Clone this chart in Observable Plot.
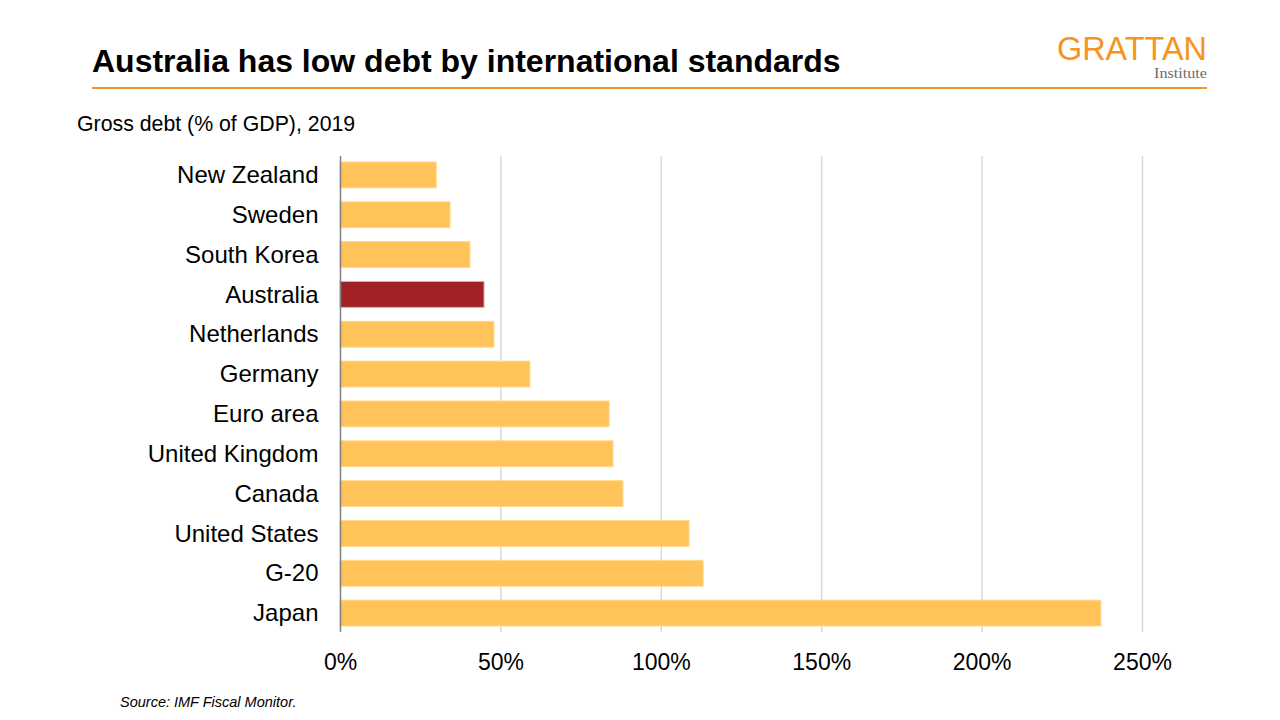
<!DOCTYPE html>
<html>
<head>
<meta charset="utf-8">
<script src="https://cdn.jsdelivr.net/npm/d3@7"></script>
<script src="https://cdn.jsdelivr.net/npm/@observablehq/plot@0.6"></script>
<style>
  html, body { margin: 0; padding: 0; background: #fff; }
  #page { position: relative; width: 1280px; height: 720px; overflow: hidden; font-family: "Liberation Sans", Arial, sans-serif; color: #000; }
  #title { position: absolute; left: 92px; top: 43px; font-size: 32px; font-weight: bold; white-space: nowrap; }
  #rule { position: absolute; left: 92px; top: 87px; width: 1115px; height: 2px; background: #F7941D; }
  #subtitle { position: absolute; left: 77px; top: 112px; font-size: 21.3px; white-space: nowrap; }
  #logo { position: absolute; left: 1040px; top: 28px; overflow: visible; }
  #chart { position: absolute; left: 0; top: 150px; }
  #source { position: absolute; left: 120px; top: 694px; font-size: 14.5px; font-style: italic; white-space: nowrap; }
</style>
</head>
<body>
<div id="page">
  <div id="title">Australia has low debt by international standards</div>
  <div id="rule"></div>
  <svg id="logo" width="180" height="56">
    <text x="17" y="31.5" textLength="150" lengthAdjust="spacingAndGlyphs" font-family="'Liberation Sans', Arial, sans-serif" font-size="34" fill="#F7941D">GRATTAN</text>
    <text x="167" y="50" text-anchor="end" textLength="53" lengthAdjust="spacingAndGlyphs" font-family="'Liberation Serif', 'DejaVu Serif', serif" font-size="15.5" fill="#6b6b6b">Institute</text>
  </svg>
  <div id="subtitle">Gross debt (% of GDP), 2019</div>
  <div id="chart"></div>
  <div id="source">Source: IMF Fiscal Monitor.</div>
</div>
<script>
const countries = ["New Zealand", "Sweden", "South Korea", "Australia", "Netherlands", "Germany", "Euro area", "United Kingdom", "Canada", "United States", "G-20", "Japan"];
const debt = [30, 34.3, 40.5, 44.9, 48, 59.2, 83.9, 85.1, 88.2, 108.8, 113.2, 237.2];
const xTicks = [0, 50, 100, 150, 200, 250];
const highlight = "Australia";

const data = countries.map((c, i) => ({country: c, value: debt[i]}));

const chart = Plot.plot({
  width: 1280,
  height: 530,
  marginLeft: 340,
  marginRight: 138,
  marginTop: 6,
  marginBottom: 48,
  style: {fontFamily: "'Liberation Sans', Arial, sans-serif", color: "#000", background: "transparent"},
  x: {domain: [0, 250], label: null},
  y: {domain: countries, paddingInner: 0.35, paddingOuter: 0.15, round: false, label: null},
  color: {type: "identity"},
  marks: [
    Plot.gridX(xTicks.filter(d => d > 0), {stroke: "#d9d9d9", strokeOpacity: 1, strokeWidth: 1.5}),
    Plot.barX(data, {
      x: "value",
      y: "country",
      fill: d => d.country === highlight ? "#A02226" : "#FFC35A",
      stroke: d => d.country === highlight ? "#d8b0b0" : "#FFDA8A",
      strokeWidth: 1
    }),
    Plot.ruleX([0], {stroke: "#808080", strokeWidth: 1.5}),
    Plot.axisX(xTicks, {tickSize: 0, tickPadding: 21, fontSize: 23, tickFormat: d => d + "%", label: null}),
    Plot.axisY({tickSize: 0, tickPadding: 22, fontSize: 24, label: null})
  ]
});
document.getElementById("chart").appendChild(chart);
</script>
</body>
</html>
